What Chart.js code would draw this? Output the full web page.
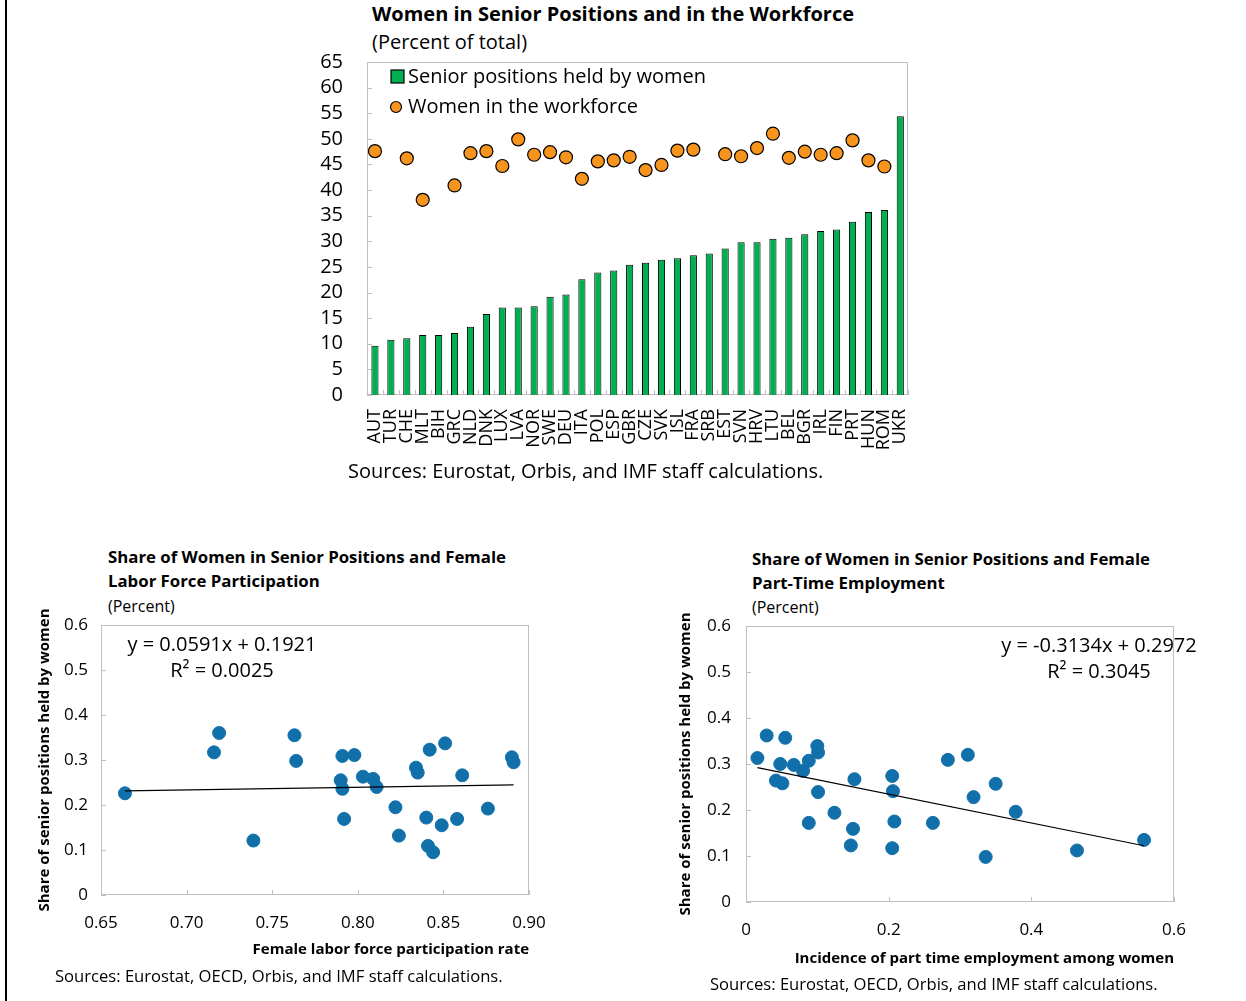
<!DOCTYPE html>
<html>
<head>
<meta charset="utf-8">
<script src="https://cdn.jsdelivr.net/npm/chart.js@4.4.1/dist/chart.umd.min.js"></script>
<style>
  body { margin: 0; background: #fff; font-family: "Open Sans", sans-serif; color: #000; }
  #page { position: relative; width: 1246px; height: 1001px; overflow: hidden; }
  .txt { position: absolute; white-space: nowrap; }
  canvas { position: absolute; }
</style>
</head>
<body>
<div id="page">
  <div style="position:absolute;left:5px;top:0;width:2px;height:1001px;background:#000"></div>

  <div class="txt" style="left:372px;top:2px;font-size:20px;line-height:24px;font-weight:bold">Women in Senior Positions and in the Workforce</div>
  <div class="txt" style="left:372px;top:30px;font-size:20px;line-height:24px">(Percent of total)</div>
  <canvas id="barChart" width="622" height="410" style="left:300px;top:50px"></canvas>
  <div class="txt" style="left:348px;top:459px;font-size:20px;line-height:24px">Sources: Eurostat, Orbis, and IMF staff calculations.</div>

  <div class="txt" style="left:108px;top:545px;font-size:16.8px;line-height:24px;font-weight:bold">Share of Women in Senior Positions and Female<br>Labor Force Participation</div>
  <div class="txt" style="left:108px;top:596px;font-size:16px;line-height:20px">(Percent)</div>
  <canvas id="scatterLeft" width="560" height="370" style="left:20px;top:600px"></canvas>
  <div class="txt" style="left:122px;top:631px;width:200px;text-align:center;font-size:20px;line-height:26px">y = 0.0591x + 0.1921<br>R² = 0.0025</div>
  <div class="txt" style="left:55px;top:965px;font-size:16.6px;line-height:22px">Sources: Eurostat, OECD, Orbis, and IMF staff calculations.</div>

  <div class="txt" style="left:752px;top:547px;font-size:16.8px;line-height:24px;font-weight:bold">Share of Women in Senior Positions and Female<br>Part-Time Employment</div>
  <div class="txt" style="left:752px;top:597px;font-size:16px;line-height:20px">(Percent)</div>
  <canvas id="scatterRight" width="586" height="380" style="left:660px;top:600px"></canvas>
  <div class="txt" style="left:999px;top:632px;width:200px;text-align:center;font-size:20px;line-height:26px">y = -0.3134x + 0.2972<br>R² = 0.3045</div>
  <div class="txt" style="left:710px;top:973px;font-size:16.6px;line-height:22px">Sources: Eurostat, OECD, Orbis, and IMF staff calculations.</div>
</div>

<script>
const countries = ["AUT","TUR","CHE","MLT","BIH","GRC","NLD","DNK","LUX","LVA","NOR","SWE","DEU","ITA","POL","ESP","GBR","CZE","SVK","ISL","FRA","SRB","EST","SVN","HRV","LTU","BEL","BGR","IRL","FIN","PRT","HUN","ROM","UKR"];
const seniorShare = [9.6,10.8,11.1,11.7,11.7,12.1,13.3,15.8,17.1,17.1,17.3,19.2,19.6,22.6,23.9,24.3,25.4,25.8,26.4,26.7,27.3,27.6,28.6,29.8,29.8,30.5,30.7,31.4,32.0,32.3,33.8,35.7,36.1,54.4];
const workforceShare = [47.6,null,46.2,38.1,null,40.9,47.2,47.6,44.7,49.9,46.9,47.4,46.4,42.2,45.6,45.8,46.5,43.9,44.9,47.7,47.9,null,47.0,46.6,48.2,51.0,46.3,47.5,46.9,47.2,49.7,45.8,44.6,null];

// labor force participation vs senior share
const lfpRate = [0.664,0.716,0.719,0.739,0.763,0.764,0.790,0.791,0.791,0.792,0.798,0.803,0.809,0.811,0.822,0.824,0.834,0.835,0.840,0.841,0.844,0.842,0.849,0.851,0.858,0.861,0.876,0.890,0.891];
const lfpSenior = [0.226,0.317,0.360,0.121,0.355,0.298,0.255,0.236,0.309,0.169,0.311,0.263,0.258,0.240,0.195,0.132,0.283,0.272,0.172,0.109,0.095,0.323,0.155,0.337,0.169,0.266,0.192,0.306,0.295];
const lfpTrend = { slope: 0.0591, intercept: 0.1921 };

// part time employment vs senior share
const partTime = [0.016,0.029,0.042,0.048,0.051,0.055,0.067,0.080,0.088,0.088,0.100,0.101,0.101,0.124,0.147,0.150,0.152,0.205,0.206,0.205,0.208,0.262,0.283,0.311,0.319,0.336,0.350,0.378,0.464,0.558];
const ptSenior = [0.313,0.362,0.264,0.300,0.258,0.357,0.298,0.285,0.307,0.172,0.339,0.325,0.239,0.194,0.123,0.159,0.267,0.274,0.241,0.117,0.175,0.172,0.309,0.320,0.228,0.098,0.257,0.196,0.112,0.135];
const ptTrend = { slope: -0.3134, intercept: 0.2972 };

const FONT = "'Open Sans', sans-serif";
const GREY = '#bfbfbf';

// plot frame + inward tick marks
const framePlugin = {
  id: 'frame',
  beforeDatasetsDraw(chart) {
    const { ctx, chartArea: a, scales } = chart;
    ctx.save();
    ctx.strokeStyle = GREY;
    ctx.lineWidth = 1;
    ctx.strokeRect(Math.round(a.left) + 0.5, Math.round(a.top) + 0.5, Math.round(a.width) - 1, Math.round(a.height) - 1);
    ctx.beginPath();
    scales.y.ticks.forEach(t => {
      const p = Math.round(scales.y.getPixelForValue(t.value)) + 0.5;
      ctx.moveTo(a.left, p); ctx.lineTo(a.left + 5, p);
    });
    if (scales.x.type === 'category') {
      for (let i = 0; i <= chart.data.labels.length; i++) {
        const p = Math.round(scales.x.getPixelForValue(i - 0.5)) + 0.5;
        ctx.moveTo(p, a.bottom); ctx.lineTo(p, a.bottom - 5);
      }
    } else {
      scales.x.ticks.forEach(t => {
        const p = Math.round(scales.x.getPixelForValue(t.value)) + 0.5;
        ctx.moveTo(p, a.bottom); ctx.lineTo(p, a.bottom - 5);
      });
    }
    ctx.stroke();
    ctx.restore();
  }
};

// legend drawn inside the plot area
const insideLegend = {
  id: 'insideLegend',
  afterDraw(chart) {
    const { ctx, chartArea: a } = chart;
    const bars = chart.data.datasets[1], dots = chart.data.datasets[0];
    ctx.save();
    ctx.font = '20px ' + FONT;
    ctx.textBaseline = 'middle';
    ctx.fillStyle = bars.backgroundColor;
    ctx.fillRect(a.left + 24, a.top + 8, 13, 13);
    ctx.strokeStyle = '#000';
    ctx.lineWidth = 1.2;
    ctx.strokeRect(a.left + 24, a.top + 8, 13, 13);
    ctx.fillStyle = '#000';
    ctx.fillText(bars.label, a.left + 41, a.top + 15);
    ctx.beginPath();
    ctx.arc(a.left + 29, a.top + 45, 5.5, 0, Math.PI * 2);
    ctx.fillStyle = dots.pointBackgroundColor;
    ctx.fill();
    ctx.stroke();
    ctx.fillStyle = '#000';
    ctx.fillText(dots.label, a.left + 41, a.top + 45);
    ctx.restore();
  }
};

new Chart(document.getElementById('barChart'), {
  type: 'bar',
  data: {
    labels: countries,
    datasets: [
      {
        type: 'line',
        label: 'Women in the workforce',
        data: workforceShare,
        showLine: false,
        pointRadius: 6.5,
        pointBackgroundColor: '#F7941D',
        pointBorderColor: '#000',
        pointBorderWidth: 1.2,
        order: 0
      },
      {
        label: 'Senior positions held by women',
        data: seniorShare,
        backgroundColor: '#00B050',
        borderColor: '#000',
        borderWidth: 1,
        barPercentage: 0.45,
        categoryPercentage: 1,
        order: 1
      }
    ]
  },
  options: {
    responsive: false,
    animation: false,
    layout: { padding: { top: 12, right: 0, left: 0, bottom: 0 } },
    plugins: { legend: { display: false }, tooltip: { enabled: false } },
    scales: {
      x: {
        grid: { display: false, drawTicks: true, tickLength: 14 },
        border: { display: false },
        ticks: { autoSkip: false, maxRotation: 90, minRotation: 90, color: '#000', padding: 0, font: { family: FONT, size: 18 } },
        afterFit(s) { s.height = 65; }
      },
      y: {
        min: 0, max: 65,
        grid: { display: false, drawTicks: true, tickLength: 24 },
        border: { display: false },
        ticks: { stepSize: 5, autoSkip: false, color: '#000', padding: 0, font: { family: FONT, size: 20 } },
        afterFit(s) { s.width = 67; }
      }
    }
  },
  plugins: [framePlugin, insideLegend]
});

function scatterChart(id, xs, ys, trend, xOpts, sizes) {
  const pts = xs.map((x, i) => ({ x, y: ys[i] }));
  const xMin = Math.min(...xs), xMax = Math.max(...xs);
  const line = [xMin, xMax].map(x => ({ x, y: trend.slope * x + trend.intercept }));
  return new Chart(document.getElementById(id), {
    type: 'scatter',
    data: {
      datasets: [
        { data: line, type: 'line', showLine: true, borderColor: '#000', borderWidth: 1.2, pointRadius: 0, order: 0 },
        { data: pts, pointRadius: 6.5, backgroundColor: '#1170AA', borderColor: '#1170AA', order: 1 }
      ]
    },
    options: {
      responsive: false,
      animation: false,
      layout: { padding: sizes.padding },
      plugins: { legend: { display: false }, tooltip: { enabled: false } },
      scales: {
        x: Object.assign({
          type: 'linear',
          grid: { display: false, drawTicks: true, tickLength: sizes.xTick },
          border: { display: false },
          title: { display: true, text: xOpts.title, align: 'end', color: '#000', padding: { top: 0, bottom: sizes.titlePad }, font: { family: FONT, size: 15, weight: 'bold' } },
          afterFit(s) { s.height = sizes.xHeight; }
        }, xOpts.scale),
        y: {
          min: 0, max: 0.6,
          grid: { display: false, drawTicks: true, tickLength: sizes.yTick },
          border: { display: false },
          ticks: { stepSize: 0.1, color: '#000', padding: 0, font: { family: FONT, size: 17 },
            callback: v => v === 0 ? '0' : v.toFixed(1) },
          title: { display: true, text: 'Share of senior positions held by women', color: '#000', padding: 0, font: { family: FONT, size: 15, weight: 'bold' } },
          afterFit(s) { s.width = sizes.yWidth; }
        }
      }
    },
    plugins: [framePlugin]
  });
}

scatterChart('scatterLeft', lfpRate, lfpSenior, lfpTrend, {
  title: 'Female labor force participation rate',
  scale: { min: 0.65, max: 0.90, ticks: { stepSize: 0.05, color: '#000', padding: 0, font: { family: FONT, size: 17 }, callback: v => v.toFixed(2) } }
}, { padding: { left: 16, top: 25, right: 51, bottom: 0 }, xHeight: 75, xTick: 18, titlePad: 11, yWidth: 65, yTick: 13 });

scatterChart('scatterRight', partTime, ptSenior, ptTrend, {
  title: 'Incidence of part time employment among women',
  scale: { min: 0, max: 0.6, ticks: { stepSize: 0.2, color: '#000', padding: 0, font: { family: FONT, size: 17 }, callback: v => v === 0 ? '0' : v.toFixed(1) } }
}, { padding: { left: 17, top: 26, right: 72, bottom: 0 }, xHeight: 78, xTick: 18, titlePad: 12, yWidth: 69, yTick: 15 });
</script>
</body>
</html>
